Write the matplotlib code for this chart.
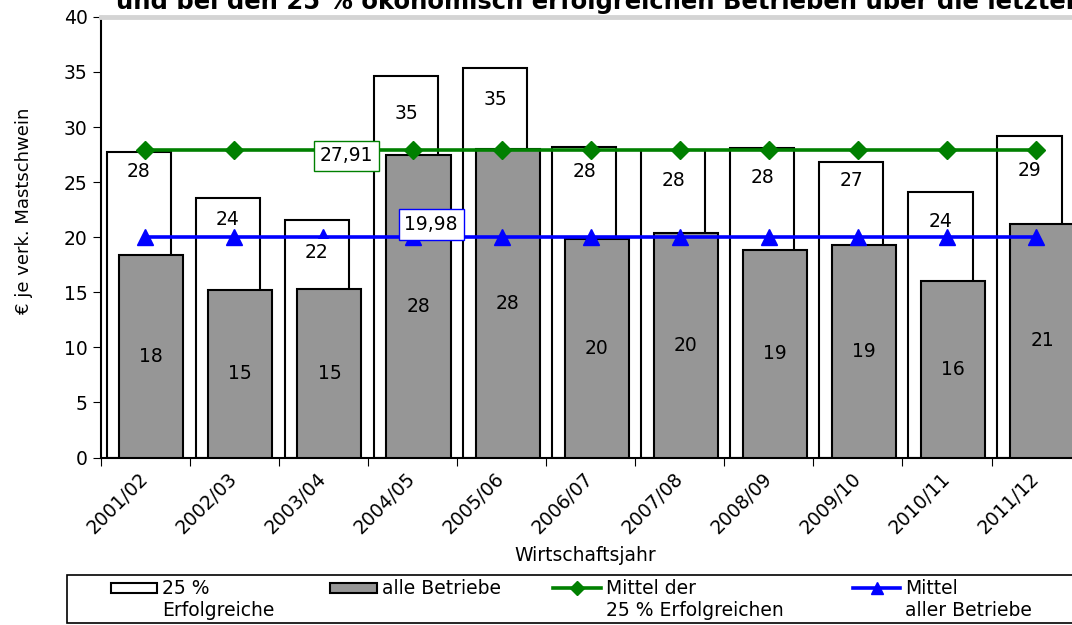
"""Kosten je verkauftem Mastschwein: alle Betriebe vs. die 25 % erfolgreichen."""
import numpy as np
import matplotlib
matplotlib.use("Agg")
import matplotlib.pyplot as plt
from matplotlib.lines import Line2D
from matplotlib.patches import Rectangle

plt.rcParams["font.family"] = ["DejaVu Sans"]

jahre = ["2001/02", "2002/03", "2003/04", "2004/05", "2005/06", "2006/07",
         "2007/08", "2008/09", "2009/10", "2010/11", "2011/12"]
erfolgreiche = [27.7, 23.6, 21.6, 34.6, 35.4, 28.2, 27.9, 28.1, 26.8, 24.1, 29.2]
alle = [18.4, 15.2, 15.3, 27.5, 28.0, 19.8, 20.4, 18.8, 19.3, 16.0, 21.2]
mittel_erfolgreiche = 27.91
mittel_alle = 19.98

# label drop below bar top (points), the original labels were placed by hand
drop_weiss = [14, 16, 24, 27, 23, 18, 22, 21, 13, 21, 25]

GRAU = "#969696"
GRUEN = "#008000"
BLAU = "#0000ff"

x = np.arange(len(jahre))
w = 0.72

W, H = 1072, 625
fig = plt.figure(figsize=(W / 100, H / 100), dpi=100)
ax = fig.add_axes([0.094, 0.268, 0.914, 0.705])

ax.bar(x - 0.073, erfolgreiche, w, color="white", edgecolor="black",
       linewidth=1.5, zorder=2)
ax.bar(x + 0.067, alle, w, color=GRAU, edgecolor="black",
       linewidth=1.5, zorder=3)

ax.plot(x, [mittel_erfolgreiche] * len(x), color=GRUEN, lw=2.6,
        marker="D", ms=9, zorder=5)
ax.plot(x, [mittel_alle] * len(x), color=BLAU, lw=2.6,
        marker="^", ms=12, zorder=5)

for i, (xi, v, d) in enumerate(zip(x, erfolgreiche, drop_weiss)):
    t = ax.annotate(f"{v:.0f}", (xi - 0.073, v), xytext=(0, -d),
                    textcoords="offset points", ha="center", va="center",
                    fontsize=13.5, zorder=4)
    if i == 2:
        # this label sits on top of the blue line in the original
        t.set_bbox(dict(boxstyle="square,pad=0.25", fc="white", ec="none"))
        t.set_zorder(6)
for xi, v in zip(x, alle):
    ax.text(xi + 0.067, v / 2, f"{v:.0f}", ha="center", va="center",
            fontsize=13.5, zorder=4)

ax.text(2.26, 27.4, f"{mittel_erfolgreiche:.2f}".replace(".", ","),
        ha="center", va="center", fontsize=13.5, zorder=6,
        bbox=dict(boxstyle="square,pad=0.3", fc="white", ec=GRUEN, lw=1))
ax.text(3.21, 21.15, f"{mittel_alle:.2f}".replace(".", ","), ha="center",
        va="center", fontsize=13.5, zorder=6,
        bbox=dict(boxstyle="square,pad=0.3", fc="white", ec=BLAU, lw=1))

ax.set_xlim(-0.5, len(jahre) - 0.5)
ax.set_ylim(0, 40)
ax.set_yticks(range(0, 41, 5))
ax.tick_params(axis="y", labelsize=13.5, direction="out", length=6)
ax.set_xticks(np.arange(-0.5, len(jahre), 1))
ax.set_xticklabels([])
ax.tick_params(axis="x", direction="out", length=6)
ax.set_xticks(x, minor=True)
ax.set_xticklabels(jahre, minor=True, rotation=45, ha="right", va="center",
                   rotation_mode="anchor", fontsize=13.5)
ax.tick_params(axis="x", which="minor", length=0, pad=13)

ax.spines["top"].set_color("#d4d4d4")
ax.spines["top"].set_linewidth(3.5)
ax.spines["right"].set_visible(False)
ax.spines["left"].set_linewidth(1.5)
ax.spines["bottom"].set_linewidth(1.5)

fig.text(0.022, 0.662, "€ je verk. Mastschwein", rotation=90,
         ha="center", va="center", fontsize=13)
fig.text(0.546, 0.111, "Wirtschaftsjahr", ha="center", va="center",
         fontsize=13.5)
fig.text(0.108, 0.986, "und bei den 25 % ökonomisch erfolgreichen Betrieben "
         "über die letzten Jahre", ha="left", va="baseline",
         fontsize=17.5, fontweight="bold")


# legend, laid out by hand: handles sit on the first text line
def px(xp, yp):
    return xp / W, 1 - yp / H


fig.patches.append(Rectangle(px(67, 623), (1090 - 67) / W, 48 / H,
                             transform=fig.transFigure, fc="white",
                             ec="black", lw=1.2, zorder=1))
y1, y2 = 588, 611
eintraege = [
    ("patch", "white", 111, 157, "25 %\nErfolgreiche"),
    ("patch", GRAU, 330, 377, "alle Betriebe"),
    ("D", GRUEN, 553, 601, "Mittel der\n25 % Erfolgreichen"),
    ("^", BLAU, 853, 900, "Mittel\naller Betriebe"),
]
for art, farbe, xa, xb, text in eintraege:
    if art == "patch":
        fig.patches.append(Rectangle(px(xa, y1 + 5), (xb - xa) / W, 10 / H,
                                     transform=fig.transFigure, fc=farbe,
                                     ec="black", lw=1.5, zorder=2))
    else:
        xs = [px(xa, y1)[0], px(xb, y1)[0]]
        fig.lines.append(Line2D(xs, [px(0, y1)[1]] * 2, color=farbe, lw=2.6,
                                transform=fig.transFigure, zorder=2))
        fig.lines.append(Line2D([sum(xs) / 2], [px(0, y1)[1]], color=farbe,
                                marker=art, ms=7 if art == "D" else 9,
                                transform=fig.transFigure, zorder=3))
    for k, zeile in enumerate(text.split("\n")):
        xt, yt = px(xb + 5, (y1, y2)[k])
        fig.text(xt, yt, zeile, ha="left", va="center", fontsize=13.5)

fig.savefig("out.png", dpi=100)
